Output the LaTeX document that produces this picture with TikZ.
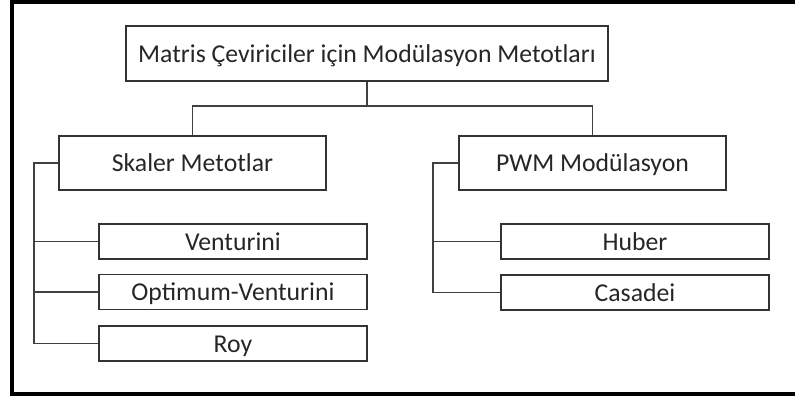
\documentclass[tikz,border=0pt]{standalone}
\usepackage{fontspec}
\setmainfont{Carlito}
\usetikzlibrary{positioning}

\begin{document}
\begin{tikzpicture}[
    box/.style={draw=black!80, line width=1.1pt, minimum height=1.375cm, inner sep=0pt, text height=0.55cm, text depth=0.11cm, text=black!85, font=\fontsize{18.3}{22}\selectfont},
    mainbox/.style={box, minimum width=12.05cm},
    groupbox/.style={box, minimum width=6.675cm, minimum height=1.35cm},
    leafbox/.style={box, minimum width=6.7cm, minimum height=0.875cm},
    link/.style={draw=black!75, line width=1pt},
    frame/.style={draw=black, line width=2.2pt}
]
\useasboundingbox (0,0) rectangle (19.875,-10.025);
% open frame (cut off on the right)
\draw[frame] (19.875,-0.05) -- (0.3,-0.05) -- (0.3,-9.85) -- (19.875,-9.85);
% root
\node[mainbox] (root) at (9.175,-1.3375) {Matris Çeviriciler için Modülasyon Metotları};
% groups
\node[groupbox] (skaler) at (4.8125,-4.075) {Skaler Metotlar};
\node[groupbox] (pwm) at (14.8125,-4.075) {PWM Modülasyon};
% leaves under Skaler Metotlar
\node[leafbox] (venturini) at (5.825,-6.0375) {Venturini};
\node[leafbox] (optven) at (5.825,-7.3) {Optimum-Venturini};
\node[leafbox] (roy) at (5.825,-8.5875) {Roy};
% leaves under PWM Modülasyon
\node[leafbox] (huber) at (15.875,-6.0375) {Huber};
\node[leafbox] (casadei) at (15.875,-7.3125) {Casadei};
% connectors
\coordinate (split) at (9.2,-2.65);
\coordinate (trunkL) at (0.85,0);
\coordinate (trunkR) at (10.825,0);
\draw[link] (root.south) -- (root.south |- split);
\draw[link] (skaler.north) |- (split) -| (pwm.north);
\draw[link] (skaler.west) -| (roy.west -| trunkL) -- (roy.west);
\foreach \n in {venturini,optven}
    \draw[link] (\n.west) -- (\n.west -| trunkL);
\draw[link] (pwm.west) -| (casadei.west -| trunkR) -- (casadei.west);
\draw[link] (huber.west) -- (huber.west -| trunkR);
\end{tikzpicture}
\end{document}
